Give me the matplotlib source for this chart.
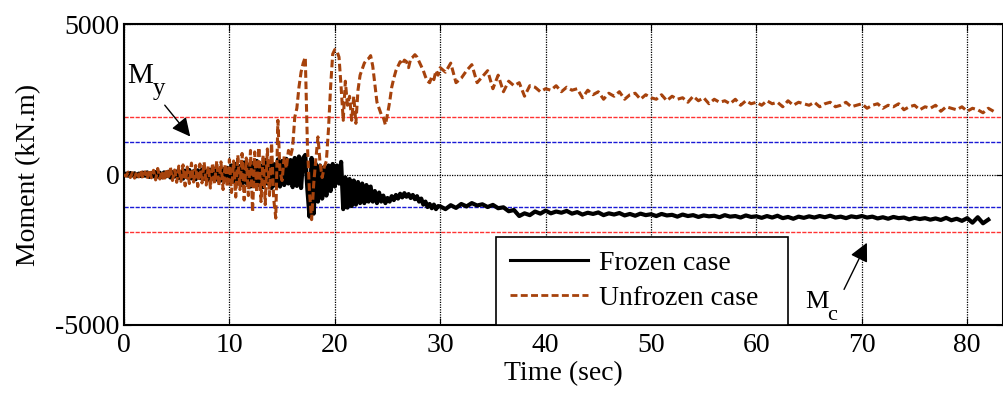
import numpy as np
import matplotlib
matplotlib.use("Agg")
import matplotlib.pyplot as plt
from matplotlib.lines import Line2D

plt.rcParams["font.family"] = ["Liberation Serif", "DejaVu Serif"]
plt.rcParams["axes.unicode_minus"] = False

# sampling grids (0.2 s up to 30 s, then 0.5 s)
t_early = np.round(np.arange(0, 30, 0.2), 1)
t_frozen_late = np.arange(30, 82.01, 0.5)
t_unfrozen_late = np.arange(30, 82.51, 0.5)

frozen_early = [
    0, 30, -40, 50, -30, 40, -60, 30, -50, 60, -40, 70, -80, 50, -60, 80, -70, 60, -90, 70, -60, 90, -100, 80, -70,
    100, -120, 90, -140, 130, -100, 150, -130, 110, -160, 140, -120, 170, -150, 120, -180, 160, -140, 190, -170, 150, -200, 180, -160, 220,
    -250, 300, -220, 350, -300, 280, -350, 400, -280, 330, -400, 380, -320, 450, -350, 300, -420, 480, -300, 400, -450, 350, -380, 500, -400,
    450, -350, 520, -300, 480, -420, 550, -380, 600, -450, 550, 650, -500, -1400, 550, -1300, 350, -900, 300, -800, 250, -700, 300, -550, 350,
    -400, 300, -300, 420, -1150, -100, -1100, -150, -1050, -200, -1000, -250, -950, -300, -950, -350, -900, -400, -900, -550, -950, -600, -900, -700, -950,
    -780, -900, -720, -850, -680, -800, -640, -760, -620, -740, -650, -780, -680, -820, -720, -900, -800, -1000, -900, -1080, -980, -1120, -1000, -1150, -1050,
]
frozen_late = [
    -1060, -1150, -1020, -1110, -980, -1060, -950, -1030, -990, -1080, -1010, -1120, -1090, -1220, -1180, -1380, -1290, -1350, -1230, -1300,
    -1200, -1290, -1230, -1270, -1210, -1300, -1250, -1330, -1270, -1310, -1260, -1350, -1290, -1330, -1280, -1360, -1310, -1370, -1300, -1350,
    -1320, -1380, -1310, -1360, -1340, -1400, -1330, -1380, -1350, -1410, -1360, -1390, -1370, -1420, -1350, -1400, -1380, -1430, -1360, -1410,
    -1390, -1440, -1380, -1430, -1370, -1450, -1410, -1470, -1400, -1440, -1390, -1430, -1380, -1420, -1370, -1430, -1400, -1450, -1390, -1420,
    -1380, -1430, -1400, -1460, -1420, -1470, -1410, -1450, -1430, -1490, -1440, -1480, -1450, -1500, -1460, -1510, -1440, -1520, -1470, -1540,
    -1450, -1600, -1420, -1620, -1500,
]

unfrozen_early = [
    0, -60, 80, -100, 60, -120, 100, -80, 150, -130, 90, -150, 170, -110, 140, -180, 200, -150, 120, -220, 180, -160, 250, -200, 150,
    -260, 280, -230, 320, -380, 250, -300, 380, -250, 300, -400, 350, -280, 420, -350, 280, -450, 380, -300, 450, -380, 420, -500, 350, -420,
    500, -600, 450, -750, 650, -500, 700, -850, 550, -700, 800, -1250, 750, -600, 900, -900, 650, -1000, 850, -700, 1050, -800, -1450, 1800, 100,
    -200, 600, 200, 800, 600, 900, 1900, 2200, 2900, 3400, 3700, 3900, 1000, -600, -1500, -300, 500, 1250, 400, -100, 250, 450, 1500, 2900, 4000,
    4150, 4100, 3900, 2900, 1800, 3100, 2300, 2600, 1800, 2600, 1700, 2800, 3300, 3500, 3700, 3800, 3850, 3950, 3600, 3000, 2400, 2200, 2000, 1900, 1650,
    2000, 2400, 2900, 3200, 3450, 3600, 3750, 3650, 3800, 3750, 3550, 3850, 3900, 3980, 3900, 3750, 3600, 3450, 3250, 3100, 3050, 3250, 3150, 3450, 3300,
]
unfrozen_late = [
    3550, 3400, 3700, 3050, 3200, 3450, 3650, 3050, 3250, 3450, 2850, 3300, 2750, 3100, 2950, 3050, 2600, 2950, 2900, 2750,
    2850, 2800, 2950, 2750, 2900, 2800, 2850, 2550, 2800, 2650, 2750, 2500, 2700, 2600, 2750, 2500, 2650, 2700, 2500, 2650,
    2550, 2500, 2650, 2450, 2600, 2500, 2550, 2400, 2600, 2450, 2550, 2350, 2500, 2400, 2450, 2350, 2500, 2300, 2450, 2350,
    2400, 2300, 2450, 2350, 2400, 2250, 2450, 2300, 2400, 2350, 2300, 2400, 2250, 2350, 2400, 2250, 2300, 2400, 2250, 2300,
    2350, 2200, 2300, 2350, 2200, 2300, 2250, 2350, 2150, 2250, 2300, 2150, 2250, 2200, 2300, 2100, 2250, 2200, 2150, 2250,
    2100, 2200, 2150, 2050, 2200, 2100,
]

t_frozen = np.concatenate([t_early, t_frozen_late])
m_frozen = np.array(frozen_early + frozen_late)
t_unfrozen = np.concatenate([t_early, t_unfrozen_late])
m_unfrozen = np.array(unfrozen_early + unfrozen_late)

M_yield = 1080
M_capacity = 1900

orange = "#a6420c"
fs = 20

fig = plt.figure(figsize=(10.04, 3.94), dpi=100)
ax = fig.add_axes([124 / 1004, 1 - 325 / 394, (1003 - 124) / 1004, (325 - 24) / 394])

# limit lines
for v in (M_capacity, -M_capacity):
    ax.axhline(v, color="#ff3333", lw=1.0, ls=(0, (3, 1)), zorder=1)
for v in (M_yield, -M_yield):
    ax.axhline(v, color="#1a1ad6", lw=1.0, ls=(0, (3, 1)), zorder=1)

ax.plot(t_frozen, m_frozen, color="black", lw=3.0, zorder=3)
ax.plot(t_unfrozen, m_unfrozen, color=orange, lw=2.2, ls=(0, (2.5, 1.2)), zorder=4)

ax.set_xlim(0, (1003 - 124) / 10.54)
ax.set_ylim(-5000, 5000)
ax.set_xticks(range(0, 81, 10))
ax.set_yticks([-5000, 0, 5000])
ax.grid(True, color="black", ls=(0, (1, 1)), lw=0.9)
ax.tick_params(direction="in", top=True, right=True, length=5, labelsize=fs)
ax.tick_params(axis="x", pad=6)
ax.tick_params(axis="y", pad=3)
for s in ax.spines.values():
    s.set_linewidth(1.5)

ax.set_xlabel("Time (sec)", fontsize=fs, labelpad=2)
ax.set_ylabel("Moment (kN.m)", fontsize=fs, labelpad=10)

# annotations: letter and lowered subscript as separate texts
ax.text(0.3, 3050, "M", fontsize=21, ha="left", va="baseline")
ax.text(2.75, 2650, "y", fontsize=18, ha="left", va="baseline")
ax.annotate("", xy=(6.45, 1190), xytext=(3.7, 2375),
            arrowprops=dict(arrowstyle="-|>", mutation_scale=28, color="black", lw=1.0))
ax.text(64.6, -4450, "M", fontsize=19, ha="left", va="baseline")
ax.text(66.7, -4850, "c", fontsize=16, ha="left", va="baseline")
ax.annotate("", xy=(70.6, -2185), xytext=(68.2, -3900),
            arrowprops=dict(arrowstyle="-|>", mutation_scale=28, color="black", lw=1.0))

handles = [Line2D([], [], color="black", lw=2.2),
           Line2D([], [], color=orange, lw=2.0, ls=(0, (2.5, 1.2)))]
leg = ax.legend(handles, ["Frozen case", "Unfrozen case"], loc="lower left",
                bbox_to_anchor=((496 - 124) / 879, 0.0, (788 - 496) / 879, 0.3), mode="expand",
                fontsize=fs, frameon=True, fancybox=False, edgecolor="black", framealpha=1,
                handlelength=2.8, handletextpad=0.4, borderpad=0.5, labelspacing=0.35,
                borderaxespad=0)
leg.get_frame().set_linewidth(1.2)
leg.set_zorder(6)

fig.savefig("out.png", dpi=100, facecolor="white")
